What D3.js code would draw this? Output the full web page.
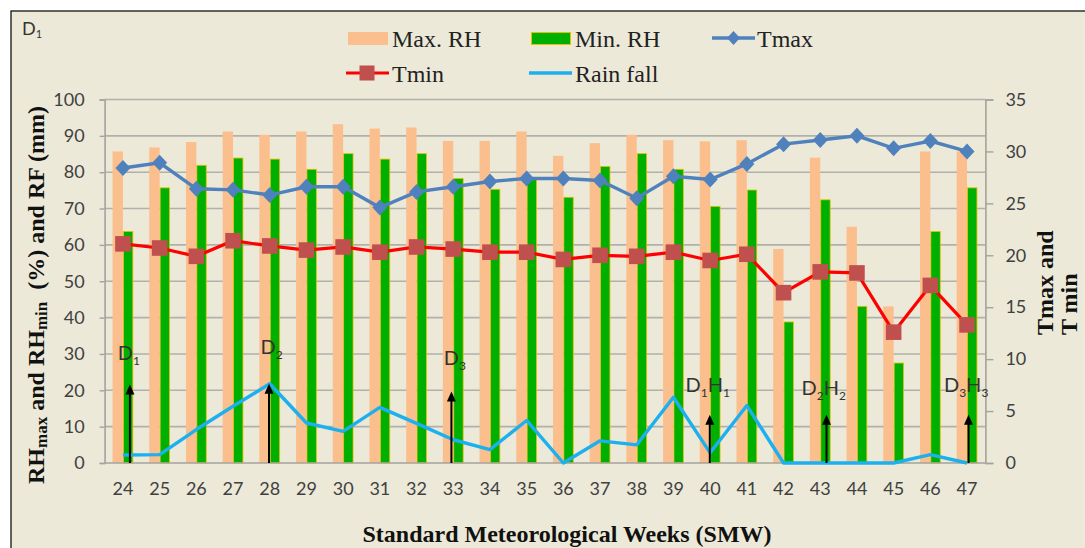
<!DOCTYPE html>
<html><head><meta charset="utf-8">
<script src="https://cdn.jsdelivr.net/npm/d3@7"></script>
<style>html,body{margin:0;padding:0;background:#fff;} svg{display:block}</style>
</head><body><svg id="c" width="1085" height="548"></svg>
<script>
// ---- data ----
const weeks = [24,25,26,27,28,29,30,31,32,33,34,35,36,37,38,39,40,41,42,43,44,45,46,47];
const maxRH = [85.7,86.8,88.3,91.2,90.3,91.2,93.2,92.0,92.3,88.6,88.6,91.2,84.5,88.0,90.3,88.8,88.5,88.8,58.9,84.0,65.0,43.1,85.7,85.7];
const minRH = [63.7,75.7,81.9,83.9,83.6,80.8,85.1,83.6,85.1,78.3,75.3,78.3,73.1,81.6,85.1,80.8,70.6,75.1,38.8,72.4,43.1,27.5,63.7,75.7];
const tmax = [28.4,28.9,26.4,26.3,25.8,26.6,26.6,24.6,26.1,26.6,27.1,27.4,27.4,27.2,25.5,27.6,27.3,28.8,30.7,31.1,31.5,30.3,31.0,30.0];
const tmin = [21.1,20.7,19.9,21.4,20.9,20.5,20.8,20.3,20.8,20.6,20.3,20.3,19.6,20.0,19.9,20.3,19.5,20.1,16.4,18.4,18.3,12.6,17.1,13.3];
const rainfall = [2.2,2.3,9.2,15.6,21.8,11.0,8.7,15.3,10.9,6.4,3.7,11.7,0,6.1,5.0,18.1,2.8,15.8,0,0,0,0,2.3,0];
const leftTicks = [0,10,20,30,40,50,60,70,80,90,100];
const rightTicks = [0,5,10,15,20,25,30,35];
// annotations: arrow positions (week), arrow tip (left-axis value), labels
const annWeeks = [24.19,27.98,32.95,39.99,43.17,47.04];
const annTops = [21.6,21.8,19.7,13.3,13.3,13.3];
const annLabels = [["D","1"],["D","2"],["D","3"],["D","1","H","1"],["D","2","H","2"],["D","3","H","3"]];
const annLabelWeeks = [23.86,27.75,32.74,39.33,42.49,46.37];
const annLabelVals = [28.4,30.0,27.0,19.6,18.7,19.6];

// ---- layout ----
const svg = d3.select("#c");
const W = 1085, H = 548;
const L = 104.6, R = 985.4, T = 99.5, B = 463;
const C = {bg:"#ECE9D8", grid:"#B2B0AA", axis:"#A5A39C", peach:"#FBBF8E", green:"#00B000", greenStroke:"#E8C000",
  tmax:"#4F81BD", tminLine:"#FF0000", tminMark:"#C0504D", rain:"#1CB0EE", text:"#404040"};

svg.append("rect").attr("width",W).attr("height",H).attr("fill","#fff");
svg.append("rect").attr("x",11).attr("y",11).attr("width",W+20).attr("height",H+20)
  .attr("fill",C.bg).attr("stroke","#000").attr("stroke-width",1.2);

const x = d3.scaleBand().domain(weeks).range([L,R]).paddingInner(0).paddingOuter(0);
const step = x.step();
const xc = w => x(w) + step/2;
const xw = d3.scaleLinear().domain([weeks[0], weeks[weeks.length-1]]).range([xc(weeks[0]), xc(weeks[weeks.length-1])]);
const yL = d3.scaleLinear().domain([0,100]).range([B,T]);
const yR = d3.scaleLinear().domain([0,35]).range([B,T]);

// gridlines
svg.append("g").selectAll("line").data(leftTicks.filter(d=>d>0)).join("line")
  .attr("x1",L).attr("x2",R).attr("y1",d=>yL(d)).attr("y2",d=>yL(d))
  .attr("stroke",C.grid).attr("stroke-width",1.6);

// axes
const font = "Lato, 'Open Sans', sans-serif";
const axL = svg.append("g").attr("transform",`translate(${L},0)`).call(d3.axisLeft(yL).tickValues(leftTicks).tickSize(5).tickPadding(15));
const axR = svg.append("g").attr("transform",`translate(${R},0)`).call(d3.axisRight(yR).tickValues(rightTicks).tickSize(8).tickPadding(12));
const axB = svg.append("g").attr("transform",`translate(0,${B})`).call(d3.axisBottom(x).tickSize(0).tickPadding(19));
[axL,axR,axB].forEach(a=>{
  a.selectAll("path.domain").attr("stroke",C.axis).attr("stroke-width",1.6);
  a.selectAll(".tick line").attr("stroke",C.axis).attr("stroke-width",1.4);
  a.selectAll("text").attr("fill",C.text).style("font-family",font).style("font-size","18px");
});
axB.select("path.domain").remove();

// bars
const bw = 10.4;
svg.append("g").selectAll("rect").data(weeks).join("rect")
  .attr("x",(w)=>xc(w)-bw).attr("width",bw)
  .attr("y",(w,i)=>yL(maxRH[i])).attr("height",(w,i)=>B-yL(maxRH[i]))
  .attr("fill",C.peach);
svg.append("g").selectAll("rect").data(weeks).join("rect")
  .attr("x",(w)=>xc(w)+0.5).attr("width",bw-1)
  .attr("y",(w,i)=>yL(minRH[i])).attr("height",(w,i)=>B-yL(minRH[i]))
  .attr("fill",C.green).attr("stroke",C.greenStroke).attr("stroke-width",0.8);

// bottom axis line
svg.append("line").attr("x1",L).attr("x2",R).attr("y1",B).attr("y2",B).attr("stroke",C.axis).attr("stroke-width",1.6);

// rainfall line
svg.append("path").datum(weeks).attr("fill","none").attr("stroke",C.rain).attr("stroke-width",3.4)
  .attr("stroke-linejoin","round")
  .attr("d",d3.line().x(w=>xc(w)).y((w,i)=>yL(rainfall[i])));

// arrows
const ag = svg.append("g");
annWeeks.forEach((w,i)=>{
  const ax = xw(w), top = yL(annTops[i]);
  ag.append("line").attr("x1",ax).attr("x2",ax).attr("y1",B).attr("y2",top+8).attr("stroke","#000").attr("stroke-width",2);
  ag.append("path").attr("d",`M${ax},${top} L${ax-4.5},${top+10} L${ax+4.5},${top+10} Z`).attr("fill","#000");
});
// annotation labels
annLabels.forEach((parts,i)=>{
  const t = svg.append("text").attr("x",xw(annLabelWeeks[i])).attr("y",yL(annLabelVals[i]))
    .attr("fill","#333").style("font-family",font).style("font-size","20px");
  parts.forEach((p,j)=>{
    const sub = j%2===1;
    t.append("tspan").text(p).style("font-size",sub?"12px":"20px").attr("dy",j===0?0:(sub?5:-5));
  });
});

// Tmin line + markers
svg.append("path").datum(weeks).attr("fill","none").attr("stroke",C.tminLine).attr("stroke-width",3.2)
  .attr("d",d3.line().x(w=>xc(w)).y((w,i)=>yR(tmin[i])));
svg.append("g").selectAll("rect").data(weeks).join("rect")
  .attr("x",w=>xc(w)-7.8).attr("y",(w,i)=>yR(tmin[i])-7.8).attr("width",15.6).attr("height",15.6)
  .attr("fill",C.tminMark);
// Tmax line + markers
svg.append("path").datum(weeks).attr("fill","none").attr("stroke",C.tmax).attr("stroke-width",3.4)
  .attr("d",d3.line().x(w=>xc(w)).y((w,i)=>yR(tmax[i])));
svg.append("g").selectAll("path").data(weeks).join("path")
  .attr("d",(w,i)=>{const cx=xc(w), cy=yR(tmax[i]); return `M${cx},${cy-8} L${cx+7.5},${cy} L${cx},${cy+8} L${cx-7.5},${cy} Z`;})
  .attr("fill",C.tmax);

// corner label D1
const d1 = svg.append("text").attr("x",22).attr("y",35).attr("fill","#333").style("font-family",font).style("font-size","18px");
d1.append("tspan").text("D");
d1.append("tspan").text("1").style("font-size","11px").attr("dy",3);

// legend
const serif = "'Liberation Serif','Times New Roman',serif";
const lg = svg.append("g").style("font-family",serif).style("font-size","24px").attr("fill","#222");
lg.append("rect").attr("x",348).attr("y",32).attr("width",40).attr("height",13).attr("fill",C.peach);
lg.append("text").attr("x",392).attr("y",47).text("Max. RH");
lg.append("rect").attr("x",531.5).attr("y",32.5).attr("width",39).attr("height",12).attr("fill",C.green).attr("stroke",C.greenStroke).attr("stroke-width",1);
lg.append("text").attr("x",575).attr("y",47).text("Min. RH");
lg.append("line").attr("x1",712).attr("x2",755).attr("y1",38).attr("y2",38).attr("stroke",C.tmax).attr("stroke-width",3.4);
lg.append("path").attr("d","M733.5,31 L740,38 L733.5,45 L727,38 Z").attr("fill",C.tmax);
lg.append("text").attr("x",757).attr("y",47).text("Tmax");
lg.append("line").attr("x1",346).attr("x2",389).attr("y1",73).attr("y2",73).attr("stroke",C.tminLine).attr("stroke-width",3.2);
lg.append("rect").attr("x",359.5).attr("y",65.5).attr("width",15).attr("height",15).attr("fill",C.tminMark);
lg.append("text").attr("x",392).attr("y",82).text("Tmin");
lg.append("line").attr("x1",529).attr("x2",572).attr("y1",73).attr("y2",73).attr("stroke",C.rain).attr("stroke-width",3.4);
lg.append("text").attr("x",575).attr("y",82).text("Rain fall");

// axis titles
svg.append("text").attr("x",567).attr("y",542).attr("text-anchor","middle")
  .style("font-family",serif).style("font-size","24px").style("font-weight","bold").attr("fill","#111")
  .text("Standard Meteorological Weeks (SMW)");
const lt = svg.append("text").attr("transform","translate(44,295) rotate(-90)").attr("text-anchor","middle")
  .style("font-family",serif).style("font-size","24px").style("font-weight","bold").attr("fill","#111");
lt.append("tspan").text("RH");
lt.append("tspan").text("max").style("font-size","17px").attr("dy",3);
lt.append("tspan").text(" and RH").attr("dy",-3);
lt.append("tspan").text("min").style("font-size","17px").attr("dy",3);
lt.append("tspan").text("  (%) and RF (mm)").attr("dy",-3).attr("xml:space","preserve");
svg.append("text").attr("transform","translate(1053,335) rotate(-90)")
  .style("font-family",serif).style("font-size","24px").style("font-weight","bold").attr("fill","#111").text("Tmax and");
svg.append("text").attr("transform","translate(1077,335) rotate(-90)")
  .style("font-family",serif).style("font-size","24px").style("font-weight","bold").attr("fill","#111").text("T min");
</script>
</body></html>
